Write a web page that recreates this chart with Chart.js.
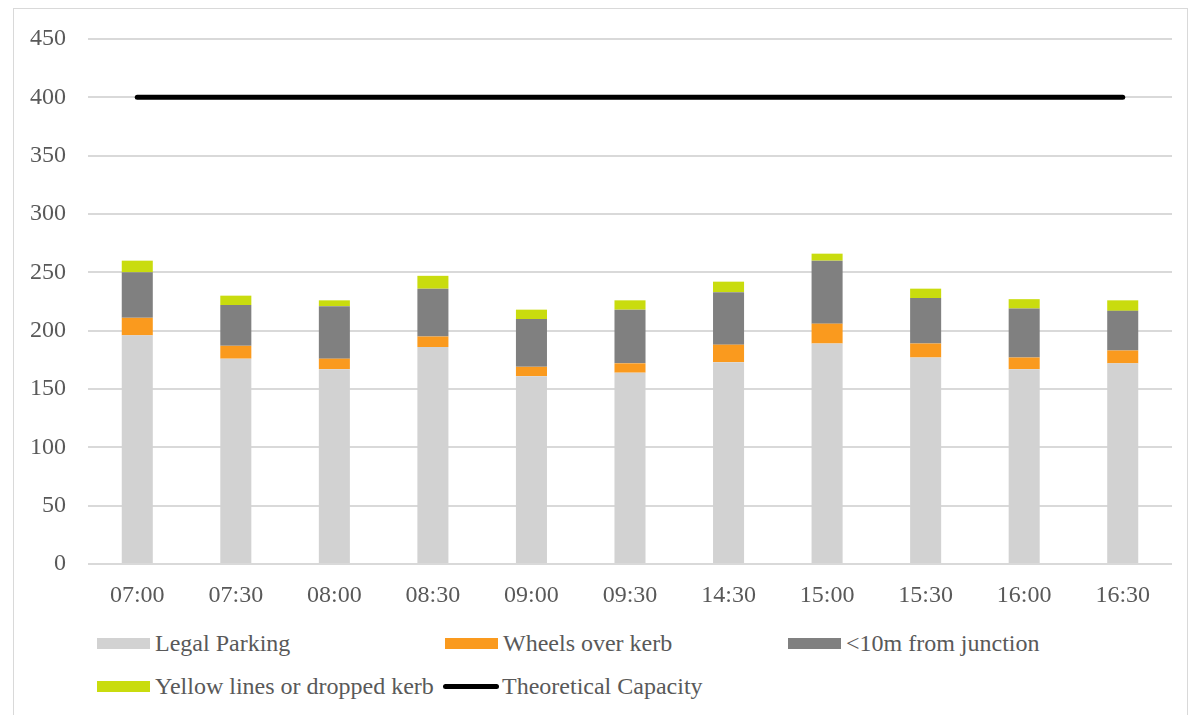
<!DOCTYPE html>
<html>
<head>
<meta charset="utf-8">
<script src="https://cdn.jsdelivr.net/npm/chart.js@4/dist/chart.umd.min.js"></script>
<style>
  html, body { margin: 0; padding: 0; background: #fff; width: 1192px; height: 715px; overflow: hidden;
    font-family: "Liberation Serif", "Times New Roman", serif; }
  #frame { position: absolute; left: 13px; top: 8px; width: 1175px; height: 730px;
    border: 1px solid #d9d9d9; box-sizing: border-box; }
  #wrap { position: absolute; left: 0; top: 0; width: 1192px; height: 620px; }
  .item { position: absolute; height: 30px; display: flex; align-items: center;
    font-size: 24px; color: #595959; white-space: nowrap; }
  .swatch { width: 53px; height: 11px; margin-right: 5px; }
  .swatch.line { height: 5px; border-radius: 3px; margin-left: -2px; margin-right: 3px; width: 56px; }
</style>
</head>
<body>
<div id="frame"></div>
<div id="wrap"><canvas id="c" width="1192" height="620"></canvas></div>
<div id="legend"></div>
<script>
// Survey times
const times = ['07:00', '07:30', '08:00', '08:30', '09:00', '09:30', '14:30', '15:00', '15:30', '16:00', '16:30'];

// Parked vehicles by type, per survey time
const legalParking    = [196, 176, 167, 186, 161, 164, 173, 189, 177, 167, 172];
const wheelsOverKerb  = [15, 11, 9, 9, 8, 8, 15, 17, 12, 10, 11];
const nearJunction    = [39, 35, 45, 41, 41, 46, 45, 54, 39, 42, 34];
const yellowLines     = [10, 8, 5, 11, 8, 8, 9, 6, 8, 8, 9];
const theoreticalCap  = [400, 400, 400, 400, 400, 400, 400, 400, 400, 400, 400];

// Value axis ticks
const yTicks = [0, 50, 100, 150, 200, 250, 300, 350, 400, 450];

const textColor = '#595959';
const tickFont = { family: '"Liberation Serif", "Times New Roman", serif', size: 24 };

function barSet(label, data, color) {
  return {
    type: 'bar', label, data, backgroundColor: color, stack: 'vehicles', order: 1,
    categoryPercentage: 1, barPercentage: 0.315, borderWidth: 0
  };
}

const chart = new Chart(document.getElementById('c'), {
  data: {
    labels: times,
    datasets: [
      barSet('Legal Parking', legalParking, '#d2d2d2'),
      barSet('Wheels over kerb', wheelsOverKerb, '#fa9a1e'),
      barSet('<10m from junction', nearJunction, '#808080'),
      barSet('Yellow lines or dropped kerb', yellowLines, '#c9dc0e'),
      {
        type: 'line', label: 'Theoretical Capacity', data: theoreticalCap, stack: 'capacity', order: 0,
        borderColor: '#000', backgroundColor: '#000', borderWidth: 5, borderCapStyle: 'round',
        pointRadius: 0, pointHoverRadius: 0, fill: false
      }
    ]
  },
  options: {
    responsive: false,
    animation: false,
    layout: { padding: { top: 39, right: 20, bottom: 16, left: 0 } },
    plugins: { legend: { display: false }, tooltip: { enabled: false } },
    scales: {
      x: {
        stacked: true,
        grid: { display: false },
        border: { display: false },
        ticks: { font: tickFont, color: textColor, padding: 9, maxRotation: 0 },
        afterFit(s) { s.height = 40; }
      },
      y: {
        stacked: true,
        min: yTicks[0],
        max: yTicks[yTicks.length - 1],
        afterBuildTicks(s) { s.ticks = yTicks.map(v => ({ value: v })); },
        grid: { color: '#d9d9d9', lineWidth: 2, drawTicks: false },
        border: { display: false },
        ticks: { font: tickFont, color: textColor, padding: 22 },
        afterFit(s) { s.width = 88; }
      }
    }
  }
});

// Legend laid out in a two-row grid below the plot
const legendSlots = [[97, 628], [445, 628], [788, 628], [97, 671], [445, 671]];
const legend = document.getElementById('legend');
chart.data.datasets.forEach((ds, i) => {
  const item = document.createElement('div');
  item.className = 'item';
  item.style.left = legendSlots[i][0] + 'px';
  item.style.top = legendSlots[i][1] + 'px';
  const sw = document.createElement('span');
  sw.className = 'swatch' + (ds.type === 'line' ? ' line' : '');
  sw.style.background = ds.type === 'line' ? ds.borderColor : ds.backgroundColor;
  const tx = document.createElement('span');
  tx.textContent = ds.label;
  item.appendChild(sw);
  item.appendChild(tx);
  legend.appendChild(item);
});
</script>
</body>
</html>
